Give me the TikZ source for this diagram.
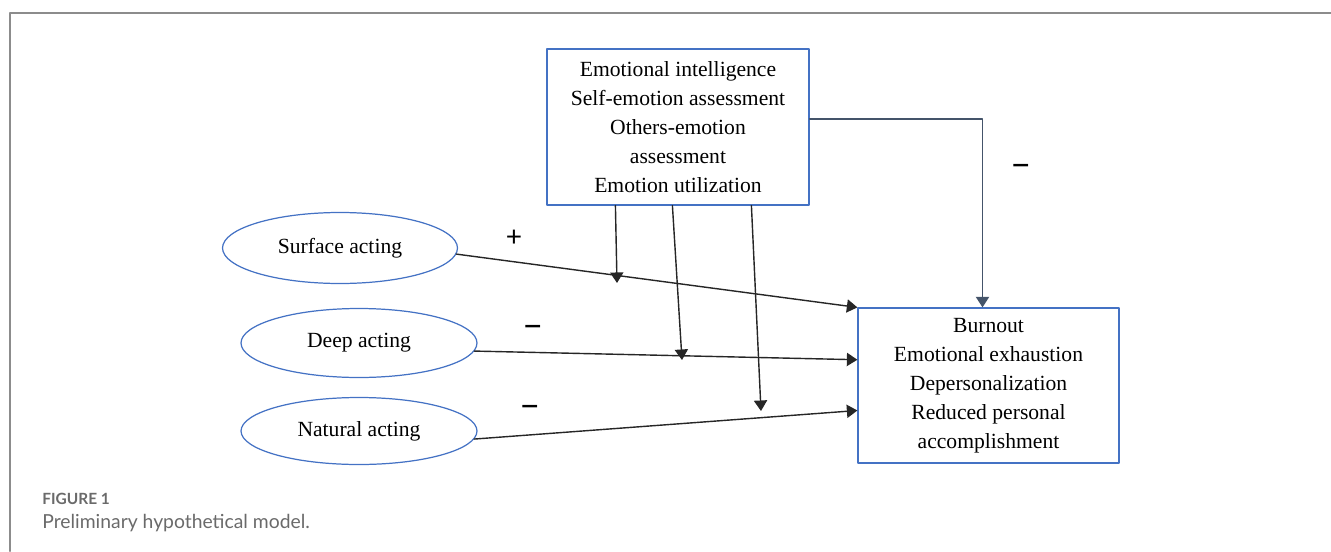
\documentclass[tikz,border=0pt]{standalone}
\usepackage{fontspec}
\setmainfont{Liberation Serif}
\newfontfamily\capfont{Lato}
\usepackage{xcolor}
\usetikzlibrary{arrows.meta,shapes,calc,positioning}
\definecolor{boxblue}{HTML}{4472C4}
\definecolor{slate}{HTML}{44546A}
\definecolor{framegray}{HTML}{8C8C8C}
\definecolor{capgray}{HTML}{6A6A6A}
\tikzset{%
      varbox/.style = { draw=boxblue, line width=0.7pt, align=center, inner sep=0pt,
                        font=\fontsize{12.3}{16.5}\selectfont },
     actoval/.style = { ellipse, draw=boxblue, line width=0.7pt, inner sep=0pt,
                        font=\fontsize{12.3}{15}\selectfont },
        link/.style = { line width=0.8pt, color=black!85, -{Triangle[length=6pt,width=7.5pt]} },
        sign/.style = { font=\capfont\fontsize{16}{18}\selectfont, inner sep=0pt },
       minus/.style = { sign, font=\capfont\fontsize{21}{22}\selectfont },
     figlabel/.style = { anchor=base west, inner sep=0pt, text=capgray }
}

\begin{document}
\begin{tikzpicture}[x=0.02cm,y=-0.02cm,line cap=round,line join=round]
\useasboundingbox (0,0) rectangle (1331,551);
% frame of the figure
\draw[framegray,line width=1.2pt] (10,551) -- (10,13) -- (1331,13);

% boxes
\node[varbox,minimum width=5.24cm,minimum height=3.12cm] (ei) at (678,127)
  {Emotional intelligence\\Self-emotion assessment\\Others-emotion\\assessment\\Emotion utilization};
\node[varbox,minimum width=5.22cm,minimum height=3.10cm] (bo) at (988.5,385.5)
  {Burnout\\Emotional exhaustion\\Depersonalization\\Reduced personal\\accomplishment};

% acting styles
\node[actoval,minimum width=4.70cm,minimum height=1.42cm] (sa) at (340,248) {Surface acting};
\node[actoval,minimum width=4.72cm,minimum height=1.38cm] (da) at (359,343) {Deep acting};
\node[actoval,minimum width=4.72cm,minimum height=1.34cm] (na) at (359,431) {Natural acting};

% direct paths
\draw[link] (sa.-3) -- (bo.north west);
\draw[link] (da.-4) -- ($(bo.north west)!0.335!(bo.south west)$);
\draw[link] (na.-4) -- ($(bo.north west)!0.66!(bo.south west)$);
\draw[link,color=slate] ($(ei.east)+(0,-8)$) -| ($(bo.north)+(-6,0)$);

% moderating paths
\coordinate (m1) at (617,283);
\coordinate (m2) at (682,360);
\coordinate (m3) at (761,411);
\draw[link] ($(ei.south west)+(69,0)$) -- (m1);
\draw[link] ($(ei.south west)+(126,0)$) -- (m2);
\draw[link] ($(ei.south west)+(205,0)$) -- (m3);

% signs
\node[sign] (s1) at (514,238) {+};
\node[minus] (s2) at (533,331) {–};
\node[minus] (s3) at (530,411) {–};
\node[minus] (s4) at (1021,170) {–};

% caption
\node[figlabel,font=\capfont\bfseries\fontsize{8.8}{10}\selectfont] (fig) at (42,504) {FIGURE 1};
\node[figlabel,font=\capfont\fontsize{11}{13}\selectfont] (cap) at (42,528) {Preliminary hypothetical model.};
\end{tikzpicture}
\end{document}
